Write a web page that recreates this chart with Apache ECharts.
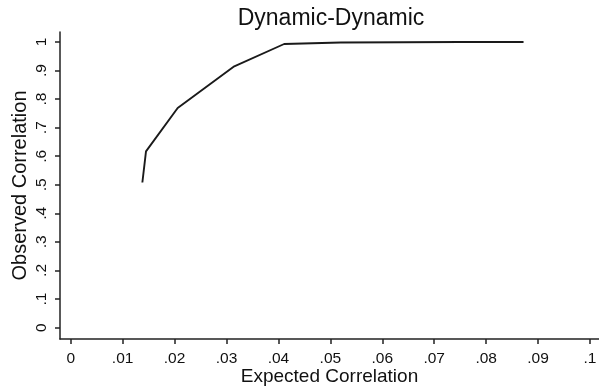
<!DOCTYPE html>
<html>
<head>
<meta charset="utf-8">
<script src="https://cdn.jsdelivr.net/npm/echarts@6/dist/echarts.min.js"></script>
<style>
html,body{margin:0;padding:0;background:#fff;}
#chart{width:599px;height:387px;}
</style>
</head>
<body>
<div id="chart"></div>
<script>
const titleText = "Dynamic-Dynamic";
const xName = "Expected Correlation";
const yName = "Observed Correlation";
const xTicks = [0, 0.01, 0.02, 0.03, 0.04, 0.05, 0.06, 0.07, 0.08, 0.09, 0.1];
const yTicks = [0, 0.1, 0.2, 0.3, 0.4, 0.5, 0.6, 0.7, 0.8, 0.9, 1];
const expected = [0.0138, 0.0145, 0.0206, 0.0315, 0.0411, 0.052, 0.064, 0.075, 0.0872];
const observed = [0.508, 0.617, 0.769, 0.915, 0.993, 0.998, 0.999, 1.0, 1.0];

function fmt(v){
  let s = String(+v.toFixed(4));
  if (s.startsWith("0.")) s = s.slice(1);
  return s;
}
const fontFamily = "'Liberation Sans', Arial, Helvetica, sans-serif";
const chart = echarts.init(document.getElementById('chart'), null, {renderer:'canvas'});
chart.setOption({
  animation:false,
  backgroundColor:'#fff',
  title:{text:titleText, left:326, textAlign:'center', top:2, textStyle:{fontFamily, fontSize:23, fontWeight:'normal', color:'#111'}},
  grid:{left:60, right:0, top:32, bottom:48, containLabel:false, outerBoundsMode:'none'},
  xAxis:{
    type:'value', min:-0.00206, max:0.10173,
    name:xName, nameLocation:'middle', nameGap:28, nameMoveOverlap:false,
    nameTextStyle:{fontFamily, fontSize:19, color:'#111'},
    axisLine:{show:true, onZero:false, lineStyle:{color:'#222', width:1.5}},
    axisTick:{show:true, length:5, lineStyle:{color:'#222', width:1.5}, customValues:xTicks},
    axisLabel:{fontFamily, fontSize:15.5, color:'#111', margin:12, customValues:xTicks, formatter:fmt},
    splitLine:{show:false}
  },
  yAxis:{
    type:'value', min:-0.04, max:1.035,
    name:yName, nameLocation:'middle', nameGap:30, nameRotate:90, nameMoveOverlap:false,
    nameTextStyle:{fontFamily, fontSize:20, color:'#111'},
    axisLine:{show:true, onZero:false, lineStyle:{color:'#222', width:1.5}},
    axisTick:{show:true, length:5, lineStyle:{color:'#222', width:1.5}, customValues:yTicks},
    axisLabel:{fontFamily, fontSize:15.5, color:'#111', margin:10, rotate:90, customValues:yTicks, formatter:fmt},
    splitLine:{show:false}
  },
  series:[{
    type:'line',
    data:expected.map((x,i)=>[x, observed[i]]),
    showSymbol:false, symbol:'none',
    lineStyle:{color:'#1a1a1a', width:1.9},
    clip:false
  }]
});
</script>
</body>
</html>
